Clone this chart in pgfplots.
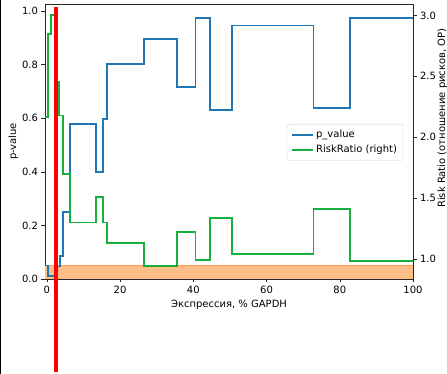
\documentclass[border=0pt]{standalone}
\usepackage{pgfplots}
\pgfplotsset{compat=1.18}
\usepackage{fontspec}
\setmainfont{DejaVu Sans}
\definecolor{mplblue}{HTML}{1F77B4}
\definecolor{mplgreen}{RGB}{20,178,60}
\definecolor{bandfill}{RGB}{255,190,135}
\definecolor{bandedge}{RGB}{255,160,80}
\begin{document}
\begin{tikzpicture}[font=\fontsize{10}{12}\selectfont]
\begin{axis}[name=ax1, scale only axis, width=368pt, height=275pt,
  xmin=-0.5, xmax=100, ymin=0, ymax=1.026,
  xtick={0,20,40,60,80,100}, ytick={0,0.2,0.4,0.6,0.8,1.0},
  yticklabel style={/pgf/number format/fixed, /pgf/number format/fixed zerofill, /pgf/number format/precision=1},
  /pgf/number format/assume math mode=true,
  xtick pos=bottom, ytick pos=left, tick align=outside, major tick length=3.5pt,
  axis line style={black!85}, tick style={black!85},
  xlabel={Экспрессия, \% GAPDH}, ylabel={p-value},
  ylabel style={xshift=0pt, yshift=-3pt},
  legend style={at={(0.657,0.564)}, anchor=north west, draw=black!20, rounded corners=2pt,
    font=\fontsize{10}{12}\selectfont, row sep=2pt, inner xsep=4pt, inner ysep=4pt},
  legend cell align=left,
  legend image code/.code={\draw[#1, line width=1.8pt] (0cm,0cm) -- (0.75cm,0cm);},
  no markers]
\addplot[fill=bandfill, draw=none, forget plot] coordinates {(-0.5,0.05) (100,0.05)} \closedcycle;
\addplot[bandedge, line width=0.8pt, forget plot] coordinates {(-0.5,0.05) (100,0.05)};
\addplot[mplblue, line width=1.8pt, const plot, mark=none] coordinates {
(-0.5,0.05) (0.36,0.012) (2.4,0.047) (3.6,0.086) (4.5,0.25) (6.3,0.578)
(13.4,0.40) (15.4,0.598) (16.5,0.802) (26.5,0.895) (35.5,0.715) (40.6,0.973)
(44.6,0.632) (50.6,0.946) (72.8,0.638) (82.9,0.974) (100,0.974)};
\addlegendentry{p\_value}
\addlegendimage{mplgreen}
\addlegendentry{RiskRatio (right)}
\end{axis}
\begin{axis}[scale only axis, width=368pt, height=275pt,
  xmin=-0.5, xmax=100, ymin=0.836, ymax=3.094,
  axis y line*=right, axis x line=none, clip=false,
  ytick={1.0,1.5,2.0,2.5,3.0},
  yticklabel style={/pgf/number format/fixed, /pgf/number format/fixed zerofill, /pgf/number format/precision=1},
  /pgf/number format/assume math mode=true,
  tick align=outside, major tick length=3.5pt,
  axis line style={black!85}, tick style={black!85},
  ylabel={Risk Ratio (отношение рисков, ОР)},
  ylabel style={at={([xshift=21pt]rel axis cs:1,0.585)}, anchor=north},
  no markers]
\addplot[mplgreen, line width=1.8pt, const plot, mark=none] coordinates {
(-0.5,2.164) (0.36,2.846) (1.1,3.003) (2.6,2.457) (3.3,2.178) (4.5,1.70)
(6.3,1.30) (13.4,1.51) (15.4,1.30) (16.5,1.134) (26.5,0.943) (35.5,1.219)
(40.6,0.989) (44.6,1.34) (50.6,1.044) (72.8,1.41) (82.9,0.986) (100,0.986)};
\addplot[red, line width=4pt, mark=none] coordinates {(2.4,3.069) (2.4,0.074)};
\end{axis}
\draw[black, line width=1pt] ([xshift=-44.5pt,yshift=-95pt]ax1.south west) -- ([xshift=-44.5pt,yshift=4pt]ax1.north west);
\pgfresetboundingbox
\path[use as bounding box] ([xshift=-45pt,yshift=-95pt]ax1.south west) rectangle ([xshift=34pt,yshift=4pt]ax1.north east);
\end{tikzpicture}
\end{document}
